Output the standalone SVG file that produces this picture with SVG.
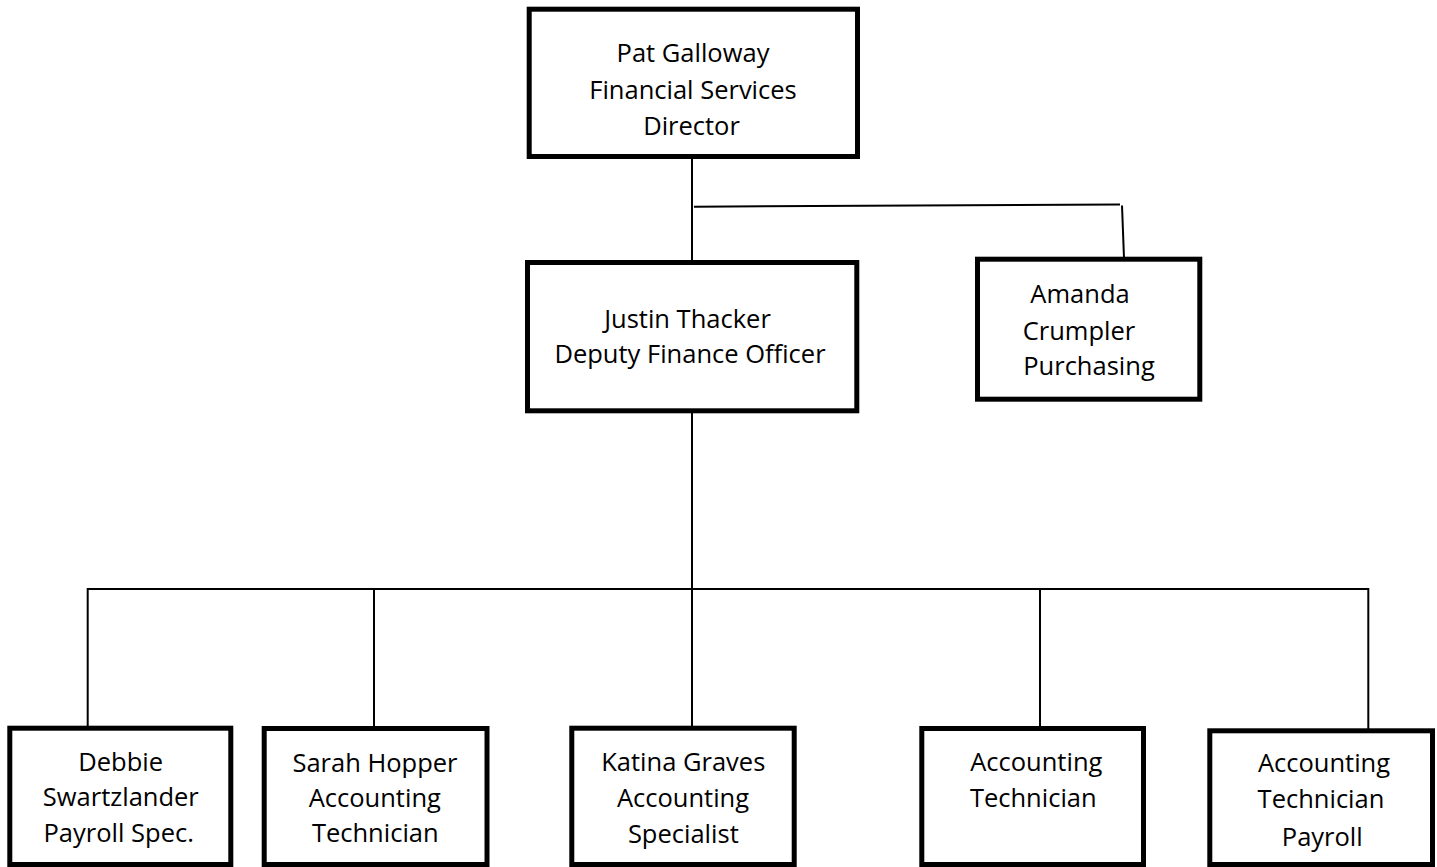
<svg xmlns="http://www.w3.org/2000/svg" width="1437" height="867" viewBox="0 0 1437 867">
<style>
.box{fill:#fff;stroke:#000;stroke-width:5}
.ln{stroke:#000;stroke-width:2;fill:none}
text{font-family:"Open Sans","Liberation Sans",sans-serif;font-size:25.5px;fill:#000;text-anchor:middle}
</style>
<rect width="1437" height="867" fill="#fff"/>
<g id="connectors">
<line class="ln" x1="692" y1="158" x2="692" y2="262"/>
<line class="ln" x1="694" y1="206.7" x2="1120" y2="204.5"/>
<line class="ln" x1="1122" y1="205.5" x2="1124" y2="258"/>
<line class="ln" x1="692" y1="412" x2="692" y2="727"/>
<line class="ln" x1="87.7" y1="589" x2="1368.3" y2="589"/>
<line class="ln" x1="87.7" y1="588" x2="87.7" y2="727"/>
<line class="ln" x1="374" y1="588" x2="374" y2="727"/>
<line class="ln" x1="1040" y1="588" x2="1040" y2="727"/>
<line class="ln" x1="1368.3" y1="588" x2="1368.3" y2="729"/>
</g>
<g id="n-galloway">
<rect class="box" x="529.2" y="9.2" width="328.3" height="147.3"/>
<text x="693" y="62.3">Pat Galloway</text>
<text x="693" y="98.8">Financial Services</text>
<text x="691.5" y="135">Director</text>
</g>
<g id="n-thacker">
<rect class="box" x="527.5" y="262.5" width="329.3" height="148.3"/>
<text x="687.5" y="328.3">Justin Thacker</text>
<text x="690" y="363.3">Deputy Finance Officer</text>
</g>
<g id="n-crumpler">
<rect class="box" x="977.5" y="259.2" width="222.3" height="140"/>
<text x="1080" y="303.3">Amanda</text>
<text x="1079" y="340">Crumpler</text>
<text x="1089" y="375">Purchasing</text>
</g>
<g id="n-swartzlander">
<rect class="box" x="9.8" y="728.2" width="221" height="136.3"/>
<text x="120.7" y="770.5">Debbie</text>
<text x="120.8" y="806">Swartzlander</text>
<text x="118.7" y="841.7">Payroll Spec.</text>
</g>
<g id="n-hopper">
<rect class="box" x="264.2" y="728.5" width="222.8" height="136"/>
<text x="375" y="771.5">Sarah Hopper</text>
<text x="374.8" y="806.7">Accounting</text>
<text x="375.3" y="841.7">Technician</text>
</g>
<g id="n-graves">
<rect class="box" x="571.8" y="728.2" width="222.4" height="136.3"/>
<text x="683.3" y="770.5">Katina Graves</text>
<text x="683" y="806.7">Accounting</text>
<text x="683.3" y="842.5">Specialist</text>
</g>
<g id="n-acctech">
<rect class="box" x="921.8" y="728.5" width="221.7" height="136"/>
<text x="1036.3" y="770.7">Accounting</text>
<text x="1033.3" y="807.3">Technician</text>
</g>
<g id="n-acctech-payroll">
<rect class="box" x="1209.8" y="730.8" width="222.7" height="133.7"/>
<text x="1324" y="771.7">Accounting</text>
<text x="1321" y="808">Technician</text>
<text x="1322.3" y="846">Payroll</text>
</g>
</svg>
